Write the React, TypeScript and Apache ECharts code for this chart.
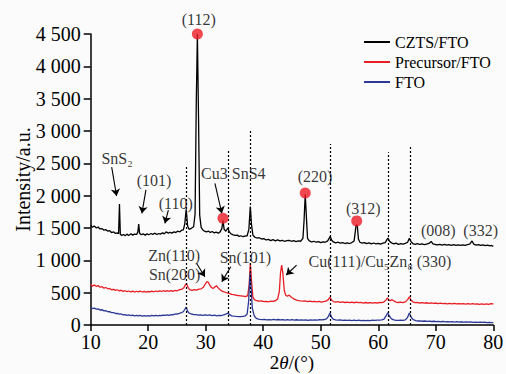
import React, { useEffect, useRef } from "react";
import * as echarts from "echarts";

const FONT = "'Liberation Serif', 'Times New Roman', serif";

const seriesNames = ["CZTS/FTO", "Precursor/FTO", "FTO"];
const seriesColors = ["#000000", "#e81e25", "#2b3896"];

// [2θ, intensity]
const czts: number[][] = [
  [10, 1545], [10.3, 1510], [10.6, 1530], [11, 1500], [11.3, 1515], [11.6, 1485], [12, 1490], [12.3, 1465], [12.6, 1475], [13, 1450],
  [13.3, 1460], [13.6, 1430], [14, 1440], [14.3, 1415], [14.6, 1425], [14.85, 1410], [15.0, 1870], [15.15, 1405], [15.4, 1385], [15.7, 1400],
  [16, 1380], [16.3, 1405], [16.6, 1385], [17, 1410], [17.3, 1390], [17.6, 1405], [18.0, 1400], [18.2, 1440], [18.35, 1560], [18.5, 1420],
  [18.8, 1395], [19.1, 1410], [19.5, 1390], [19.8, 1410], [20.1, 1395], [20.5, 1415], [20.8, 1400], [21.1, 1420], [21.5, 1400], [21.8, 1415],
  [22.1, 1405], [22.5, 1425], [22.8, 1410], [23.1, 1440], [23.5, 1420], [23.8, 1435], [24.1, 1420], [24.5, 1440], [24.8, 1430], [25.1, 1450],
  [25.5, 1440], [25.8, 1465], [26.1, 1470], [26.35, 1560], [26.6, 1790], [26.85, 1530], [27.1, 1480], [27.5, 1495], [27.9, 1520], [28.15, 1720],
  [28.35, 3400], [28.55, 4500], [28.75, 3200], [28.95, 1700], [29.2, 1510], [29.5, 1470], [29.8, 1450], [30.1, 1440], [30.5, 1450], [30.8, 1430],
  [31.1, 1445], [31.5, 1425], [31.8, 1435], [32.2, 1420], [32.5, 1440], [32.8, 1490], [33.0, 1620], [33.2, 1480], [33.5, 1450], [33.85, 1500],
  [34.1, 1440], [34.4, 1410], [34.8, 1395], [35.1, 1385], [35.5, 1390], [35.8, 1370], [36.1, 1380], [36.5, 1365], [36.8, 1375], [37.2, 1380],
  [37.5, 1480], [37.75, 1830], [37.95, 1560], [38.2, 1390], [38.5, 1360], [38.9, 1345], [39.3, 1350], [39.7, 1330], [40.1, 1335], [40.5, 1315],
  [40.9, 1325], [41.3, 1305], [41.7, 1320], [42.1, 1300], [42.5, 1315], [42.9, 1300], [43.3, 1310], [43.7, 1295], [44.1, 1305], [44.5, 1310],
  [44.9, 1295], [45.3, 1305], [45.7, 1290], [46.1, 1300], [46.5, 1295], [46.9, 1340], [47.1, 1620], [47.3, 2020], [47.5, 1680], [47.7, 1340],
  [48.0, 1300], [48.4, 1285], [48.8, 1295], [49.2, 1280], [49.6, 1290], [50.0, 1275], [50.4, 1285], [50.8, 1280], [51.2, 1300], [51.45, 1340],
  [51.65, 1370], [51.9, 1310], [52.2, 1285], [52.6, 1270], [53.0, 1280], [53.4, 1265], [53.8, 1275], [54.2, 1260], [54.6, 1270], [55.0, 1260],
  [55.4, 1275], [55.8, 1300], [56.0, 1440], [56.15, 1550], [56.35, 1540], [56.55, 1330], [56.8, 1280], [57.2, 1265], [57.6, 1275], [58.0, 1258],
  [58.4, 1270], [58.8, 1255], [59.2, 1268], [59.6, 1255], [60.0, 1262], [60.4, 1250], [60.8, 1265], [61.2, 1275], [61.5, 1320], [61.7, 1345],
  [61.95, 1295], [62.3, 1270], [62.7, 1255], [63.1, 1265], [63.5, 1248], [63.9, 1258], [64.3, 1250], [64.7, 1262], [65.1, 1280], [65.4, 1340],
  [65.7, 1290], [66.0, 1260], [66.4, 1248], [66.8, 1258], [67.2, 1245], [67.6, 1255], [68.0, 1242], [68.4, 1252], [68.8, 1262], [69.2, 1292],
  [69.5, 1255], [69.9, 1245], [70.3, 1238], [70.7, 1248], [71.1, 1236], [71.5, 1246], [71.9, 1235], [72.3, 1244], [72.7, 1232], [73.1, 1242],
  [73.5, 1232], [73.9, 1240], [74.3, 1230], [74.7, 1240], [75.1, 1232], [75.5, 1242], [75.9, 1250], [76.3, 1300], [76.6, 1250], [77.0, 1236],
  [77.4, 1244], [77.8, 1230], [78.2, 1240], [78.6, 1226], [79.0, 1236], [79.4, 1224], [79.7, 1230], [80, 1215],
];

const precursor: number[][] = [
  [10, 630], [10.3, 600], [10.6, 620], [11, 595], [11.3, 610], [11.6, 585], [12, 592], [12.3, 570], [12.6, 580], [13, 560],
  [13.3, 565], [13.6, 545], [14, 552], [14.3, 535], [14.6, 545], [15, 528], [15.3, 538], [15.6, 520], [16, 530], [16.3, 515],
  [16.6, 526], [17, 512], [17.3, 524], [17.6, 510], [18, 522], [18.3, 512], [18.6, 524], [19, 510], [19.3, 520], [19.6, 508],
  [20, 518], [20.3, 512], [20.6, 524], [21, 514], [21.3, 526], [21.6, 515], [22, 528], [22.3, 518], [22.6, 530], [23, 520],
  [23.3, 532], [23.6, 522], [24, 530], [24.3, 520], [24.6, 534], [25, 528], [25.4, 545], [25.8, 550], [26.2, 575], [26.45, 620],
  [26.65, 640], [26.9, 585], [27.2, 548], [27.6, 535], [28.0, 548], [28.4, 540], [28.8, 555], [29.2, 560], [29.6, 585], [29.9, 630],
  [30.2, 672], [30.45, 660], [30.7, 615], [31.0, 580], [31.3, 565], [31.6, 590], [31.9, 605], [32.2, 570], [32.5, 545], [32.9, 520],
  [33.3, 510], [33.7, 495], [34.1, 490], [34.5, 475], [34.9, 470], [35.3, 460], [35.7, 455], [36.1, 450], [36.5, 445], [36.9, 440],
  [37.3, 455], [37.55, 620], [37.75, 960], [37.95, 700], [38.2, 430], [38.5, 390], [38.9, 375], [39.3, 368], [39.7, 372], [40.1, 360],
  [40.5, 366], [40.9, 358], [41.3, 368], [41.7, 365], [42.1, 375], [42.5, 400], [42.8, 520], [43.0, 800], [43.2, 925], [43.4, 810],
  [43.65, 540], [43.9, 460], [44.2, 445], [44.5, 462], [44.9, 430], [45.3, 405], [45.7, 388], [46.1, 378], [46.5, 372], [46.9, 368],
  [47.3, 372], [47.7, 362], [48.1, 368], [48.5, 360], [48.9, 366], [49.3, 358], [49.7, 364], [50.1, 355], [50.5, 362], [50.9, 368],
  [51.3, 392], [51.6, 432], [51.9, 382], [52.2, 362], [52.6, 355], [53.0, 360], [53.4, 350], [53.8, 357], [54.2, 348], [54.6, 355],
  [55.0, 345], [55.4, 352], [55.8, 344], [56.2, 352], [56.6, 345], [57.0, 350], [57.4, 340], [57.8, 348], [58.2, 340], [58.6, 346],
  [59.0, 338], [59.4, 346], [59.8, 340], [60.2, 348], [60.6, 345], [61.0, 358], [61.35, 388], [61.6, 418], [61.85, 385], [62.1, 378],
  [62.4, 392], [62.7, 372], [63.1, 355], [63.5, 348], [63.9, 354], [64.3, 346], [64.7, 358], [65.1, 392], [65.4, 437], [65.7, 382],
  [66.0, 358], [66.4, 345], [66.8, 350], [67.2, 340], [67.6, 346], [68.0, 338], [68.4, 344], [68.8, 335], [69.2, 342], [69.6, 334],
  [70.0, 340], [70.4, 332], [70.8, 338], [71.2, 330], [71.6, 336], [72.0, 328], [72.4, 335], [72.8, 328], [73.2, 334], [73.6, 325],
  [74.0, 332], [74.4, 325], [74.8, 331], [75.2, 324], [75.6, 330], [76.0, 322], [76.4, 330], [76.8, 322], [77.2, 328], [77.6, 320],
  [78.0, 327], [78.4, 320], [78.8, 326], [79.2, 318], [79.6, 330], [80, 325],
];

const fto: number[][] = [
  [10, 272], [10.3, 255], [10.6, 262], [11, 245], [11.3, 250], [11.6, 232], [12, 236], [12.3, 218], [12.6, 222], [13, 205],
  [13.3, 208], [13.6, 192], [14, 190], [14.3, 178], [14.6, 180], [15, 168], [15.3, 170], [15.6, 158], [16, 160], [16.3, 150],
  [16.6, 155], [17, 145], [17.3, 152], [17.6, 142], [18, 150], [18.3, 140], [18.6, 148], [19, 138], [19.3, 146], [19.6, 138],
  [20, 146], [20.3, 138], [20.6, 148], [21, 140], [21.3, 150], [21.6, 142], [22, 150], [22.3, 144], [22.6, 154], [23, 148],
  [23.3, 158], [23.6, 150], [24, 162], [24.3, 158], [24.6, 168], [25, 170], [25.4, 180], [25.8, 192], [26.1, 205], [26.35, 240],
  [26.6, 275], [26.85, 215], [27.1, 185], [27.5, 170], [27.9, 162], [28.3, 160], [28.7, 152], [29.1, 158], [29.5, 150], [29.9, 156],
  [30.3, 150], [30.7, 155], [31.1, 146], [31.5, 152], [31.9, 142], [32.3, 148], [32.7, 145], [33.1, 155], [33.5, 168], [33.85, 185],
  [34.15, 160], [34.5, 142], [34.9, 136], [35.3, 132], [35.7, 130], [36.1, 128], [36.5, 135], [36.9, 142], [37.2, 170], [37.45, 360],
  [37.7, 800], [37.9, 560], [38.1, 260], [38.4, 150], [38.7, 110], [39.0, 95], [39.4, 88], [39.8, 82], [40.2, 86], [40.6, 78],
  [41.0, 84], [41.4, 78], [41.8, 86], [42.2, 79], [42.6, 85], [43.0, 78], [43.4, 84], [43.8, 77], [44.2, 83], [44.6, 76],
  [45.0, 82], [45.4, 75], [45.8, 81], [46.2, 74], [46.6, 80], [47.0, 74], [47.4, 80], [47.8, 73], [48.2, 79], [48.6, 74],
  [49.0, 80], [49.4, 75], [49.8, 82], [50.2, 78], [50.6, 85], [51.0, 95], [51.3, 130], [51.6, 185], [51.9, 115], [52.2, 88],
  [52.6, 78], [53.0, 74], [53.4, 79], [53.8, 71], [54.2, 76], [54.6, 70], [55.0, 75], [55.4, 69], [55.8, 74], [56.2, 68],
  [56.6, 74], [57.0, 68], [57.4, 73], [57.8, 67], [58.2, 73], [58.6, 68], [59.0, 74], [59.4, 70], [59.8, 76], [60.2, 74],
  [60.6, 80], [61.0, 92], [61.35, 140], [61.65, 190], [61.95, 135], [62.3, 95], [62.7, 80], [63.1, 73], [63.5, 70], [63.9, 74],
  [64.3, 72], [64.7, 80], [65.05, 110], [65.4, 185], [65.75, 115], [66.1, 82], [66.5, 68], [66.9, 62], [67.3, 64], [67.7, 58],
  [68.1, 62], [68.5, 55], [68.9, 60], [69.3, 54], [69.7, 58], [70.1, 52], [70.5, 56], [70.9, 50], [71.3, 55], [71.7, 49],
  [72.1, 53], [72.5, 48], [72.9, 52], [73.3, 46], [73.7, 51], [74.1, 45], [74.5, 50], [74.9, 44], [75.3, 49], [75.7, 43],
  [76.1, 48], [76.5, 42], [76.9, 46], [77.3, 41], [77.7, 45], [78.1, 40], [78.5, 44], [78.9, 38], [79.3, 42], [79.7, 37],
  [80, 36],
];

// Red marker dots on CZTS peaks
const peakDots: number[][] = [
  [28.55, 4500], [33.0, 1650], [47.3, 2040], [56.25, 1610],
];

// Dotted reference lines (FTO peaks)
const dashX = [26.6, 33.9, 37.8, 51.6, 61.7, 65.5];
const dashTop = [2460, 2690, 3000, 2800, 2670, 2760];

// Annotation texts [label, 2θ, intensity]
const annoText = [
  "(112)", "SnS₂", "(101)", "(110)", "Cu3 SnS4", "(220)", "(312)", "(008)", "(332)",
  "Zn(110)", "Sn(200)", "Sn(101)", "Cu(111)/Cu₅Zn₈ (330)",
];
const annoX = [28.8, 14.6, 21.0, 24.8, 34.8, 49.0, 57.4, 70.45, 77.8, 24.5, 24.6, 36.9, 60.3];
const annoY = [4730, 2580, 2240, 1880, 2345, 2292, 1803, 1468, 1468, 1080, 775, 1050, 978];

// Arrows [from2θ, fromI, to2θ, toI]
const arrowFromX = [13.65, 19.6, 23.5, 31.6, 28.4, 34.35, 45.8];
const arrowFromY = [2440, 2090, 1775, 2190, 954, 900, 927];
const arrowToX = [14.5, 18.9, 22.9, 32.8, 29.85, 32.8, 44.0];
const arrowToY = [1995, 1727, 1572, 1726, 747, 669, 773];

const yTickFmt = (v: number) => {
  const s = String(Math.round(v));
  return s.length > 3 ? s.slice(0, s.length - 3) + " " + s.slice(-3) : s;
};

export default function App() {
  const ref = useRef<HTMLDivElement>(null);
  useEffect(() => {
    if (!ref.current) return;
    const chart = echarts.init(ref.current, null, { renderer: "svg" });
    const lineSeries = [czts, precursor, fto].map((d, i) => ({
      name: seriesNames[i],
      type: "line",
      data: d,
      symbol: "none",
      lineStyle: { color: seriesColors[i], width: 1.3 },
      itemStyle: { color: seriesColors[i] },
      z: 2,
    }));
    chart.setOption({
      animation: false,
      backgroundColor: "#fbfbfb",
      textStyle: { fontFamily: FONT },
      grid: { left: 90.7, right: 12.7, top: 34, bottom: 49, outerBoundsMode: "none", containLabel: false },
      legend: {
        data: seriesNames,
        orient: "vertical",
        left: 364,
        top: 34,
        padding: 0,
        itemGap: 4,
        itemWidth: 26,
        itemHeight: 2,
        icon: "rect",
        textStyle: { fontFamily: FONT, fontSize: 16, color: "#000", padding: [0, 0, 0, 0] },
      },
      xAxis: {
        type: "value",
        min: 10,
        max: 80,
        interval: 10,
        name: "2{i|θ}/(°)",
        nameLocation: "middle",
        nameGap: 28,
        nameMoveOverlap: false,
        nameTextStyle: {
          fontFamily: FONT,
          fontSize: 19,
          lineHeight: 18,
          color: "#000",
          rich: { i: { fontFamily: FONT, fontSize: 19, lineHeight: 18, fontStyle: "italic", color: "#000" } },
        },
        axisLine: { lineStyle: { color: "#000", width: 1.5 } },
        axisTick: { inside: false, length: 6, lineStyle: { color: "#000", width: 1.5 } },
        axisLabel: { fontFamily: FONT, fontSize: 20, color: "#000", margin: 7 },
        splitLine: { show: false },
      },
      yAxis: {
        type: "value",
        min: 0,
        max: 4500,
        interval: 500,
        name: "Intensity/a.u.",
        nameLocation: "middle",
        nameGap: 58,
        nameMoveOverlap: false,
        nameTextStyle: { fontFamily: FONT, fontSize: 20, color: "#000" },
        axisLine: { show: true, lineStyle: { color: "#000", width: 1.5 } },
        axisTick: { show: true, length: 7, lineStyle: { color: "#000", width: 1.5 } },
        axisLabel: { fontFamily: FONT, fontSize: 20, color: "#000", margin: 10, formatter: yTickFmt },
        splitLine: { show: false },
      },
      series: [
        ...lineSeries,
        {
          name: "dots",
          type: "scatter",
          data: peakDots,
          symbol: "circle",
          symbolSize: 11,
          clip: false,
          itemStyle: { color: "#ee1c25" },
          z: 5,
        },
        {
          name: "guides",
          type: "scatter",
          data: dashX.map((x) => [x, 0]),
          symbolSize: 0,
          silent: true,
          markLine: {
            silent: true,
            symbol: ["none", "none"],
            label: { show: false },
            lineStyle: { color: "#000", width: 1.2, type: [2, 2] },
            data: dashX.map((x, i) => [{ coord: [x, 0] }, { coord: [x, dashTop[i]] }]),
          },
          z: 1,
        },
        {
          name: "annotations",
          type: "scatter",
          symbolSize: 0,
          silent: true,
          clip: false,
          data: annoText.map((t, i) => ({
            value: [annoX[i], annoY[i]],
            label: {
              show: true,
              position: "inside",
              formatter: t,
              fontFamily: FONT,
              fontSize: 16,
              color: "#000",
            },
          })),
          markLine: {
            silent: true,
            symbol: ["none", "arrow"],
            symbolSize: 7,
            label: { show: false },
            lineStyle: { color: "#000", width: 1.1, type: "solid" },
            data: arrowFromX.map((x, i) => [
              { coord: [x, arrowFromY[i]] },
              { coord: [arrowToX[i], arrowToY[i]] },
            ]),
          },
          z: 6,
        },
      ],
    });
    return () => chart.dispose();
  }, []);
  return <div ref={ref} style={{ position: "absolute", left: 0, top: 0, width: 506, height: 374 }} />;
}
